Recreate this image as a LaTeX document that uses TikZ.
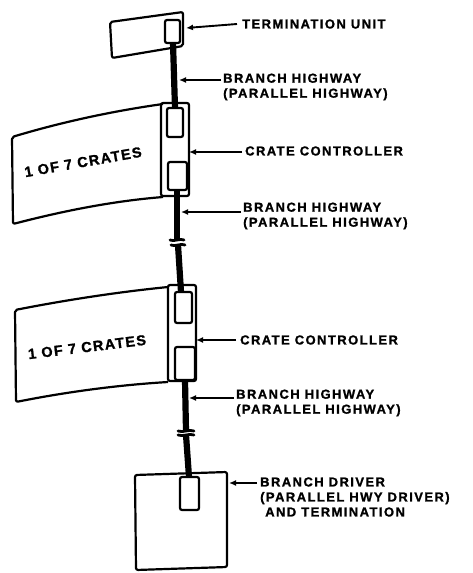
\documentclass[tikz,border=0pt]{standalone}
\usepackage{fontspec}
\newfontfamily\lblfont[LetterSpace=11,FakeBold=1.2]{Liberation Sans}
\newfontfamily\cratefont[LetterSpace=9,FakeBold=1.2]{Liberation Sans}
\usetikzlibrary{arrows.meta}
\begin{document}
\begin{tikzpicture}[x=1pt,y=-1pt,
  outline/.style={line width=2.2pt, line join=round, rounded corners=2pt},
  inner/.style={line width=2.2pt, rounded corners=2pt, fill=white},
  bus/.style={line width=6.2pt},
  brk/.style={line width=2.8pt, line cap=round},
  pointer/.style={line width=1.9pt, -{Latex[length=7pt,width=6pt]}},
  lbl/.style={font=\lblfont\bfseries\fontsize{13}{15}\selectfont, inner sep=0pt, anchor=west, align=left},
  cratelbl/.style={font=\cratefont\bfseries\fontsize{14.5}{16}\selectfont, inner sep=0pt}]
\useasboundingbox (0,0) rectangle (472,573);

% ---------- buses ----------
\coordinate (b1a) at (173,43);  \coordinate (b1b) at (175,108);
\coordinate (b2a) at (177,190); \coordinate (b2b) at (177,240);
\coordinate (b2c) at (178,245); \coordinate (b2d) at (181,292);
\coordinate (b3a) at (185,380); \coordinate (b3b) at (186,431);
\coordinate (b3c) at (186,435); \coordinate (b3d) at (189,477);
\draw[bus] (b1a) -- (b1b);
\draw[bus] (b2a) -- (b2b);
\draw[bus] (b2c) -- (b2d);
\draw[bus] (b3a) -- (b3b);
\draw[bus] (b3c) -- (b3d);
% break marks
\draw[brk] ([xshift=-7pt]b2b) .. controls ([xshift=-3pt,yshift=-2pt]b2b) and ([xshift=3pt,yshift=2pt]b2b) .. ([xshift=7pt]b2b);
\draw[brk] ([xshift=-7pt]b2c) .. controls ([xshift=-3pt,yshift=-2pt]b2c) and ([xshift=3pt,yshift=2pt]b2c) .. ([xshift=7pt]b2c);
\draw[brk] ([xshift=-8pt]b3b) .. controls ([xshift=-3pt,yshift=-2pt]b3b) and ([xshift=3pt,yshift=2pt]b3b) .. ([xshift=8pt]b3b);
\draw[brk] ([xshift=-8pt]b3c) .. controls ([xshift=-3pt,yshift=-2pt]b3c) and ([xshift=3pt,yshift=2pt]b3c) .. ([xshift=8pt]b3c);

% ---------- termination unit ----------
\draw[outline] (110,22) -- (183,12) -- (183,46) -- (112,58) -- cycle;
\draw[inner] (165,20) rectangle (180,43);
\coordinate (tutip) at (186,28);

% ---------- crate 1 ----------
\draw[outline] (163,104) .. controls (113,111) and (62,122) .. (12,137) -- (13,224)
  .. controls (63,211) and (113,201) .. (163,197);
\draw[outline] (161,103) rectangle (189,196);
\draw[inner] (167,108) rectangle (183,137);
\draw[inner] (168,162) rectangle (187,190);
\node[cratelbl, rotate=10] (crate1) at (83,162) {1 OF 7 CRATES};
\coordinate (cc1tip) at (189,152);

% ---------- crate 2 ----------
\draw[outline] (168,287) .. controls (118,292) and (66,300) .. (15,310) -- (16,402)
  .. controls (66,392) and (118,385) .. (168,382);
\draw[outline] (168,285) rectangle (196,381);
\draw[inner] (175,292) rectangle (192,323);
\draw[inner] (175,347) rectangle (195,380);
\node[cratelbl, rotate=7] (crate2) at (87,347) {1 OF 7 CRATES};
\coordinate (cc2tip) at (196,340);

% ---------- branch driver ----------
\draw[outline] (135,475) -- (227,472) -- (227,567) -- (136,570) -- cycle;
\draw[inner] (180,477) rectangle (199,510);
\coordinate (bdtip) at (229,483);

% ---------- labels ----------
\node[lbl] (tu) at (242,24) {TERMINATION UNIT};
\node[lbl] (hw1) at (223,87) {BRANCH HIGHWAY\\(PARALLEL HIGHWAY)};
\node[lbl] (cc1) at (245,151) {CRATE CONTROLLER};
\node[lbl] (hw2) at (243,216) {BRANCH HIGHWAY\\(PARALLEL HIGHWAY)};
\node[lbl] (cc2) at (240,340) {CRATE CONTROLLER};
\node[lbl] (hw3) at (236,403) {BRANCH HIGHWAY\\(PARALLEL HIGHWAY)};
\node[lbl] (bd) at (260,497) {BRANCH DRIVER\\(PARALLEL HWY DRIVER)\\\ AND TERMINATION};

\coordinate (hw1tip) at (179,80);
\coordinate (hw2tip) at (181,212);
\coordinate (hw3tip) at (189,398);

% ---------- pointers ----------
\draw[pointer] ([xshift=-5pt]tu.west) -- (tutip);
\draw[pointer] ([xshift=-2pt]hw1.west |- hw1tip) -- (hw1tip);
\draw[pointer] ([xshift=-3pt]cc1.west |- cc1tip) -- (cc1tip);
\draw[pointer] ([xshift=-2pt]hw2.west |- hw2tip) -- (hw2tip);
\draw[pointer] ([xshift=-4pt]cc2.west |- cc2tip) -- (cc2tip);
\draw[pointer] ([xshift=-2pt]hw3.west |- hw3tip) -- (hw3tip);
\draw[pointer] ([xshift=-3pt]bd.west |- bdtip) -- (bdtip);
\end{tikzpicture}
\end{document}
